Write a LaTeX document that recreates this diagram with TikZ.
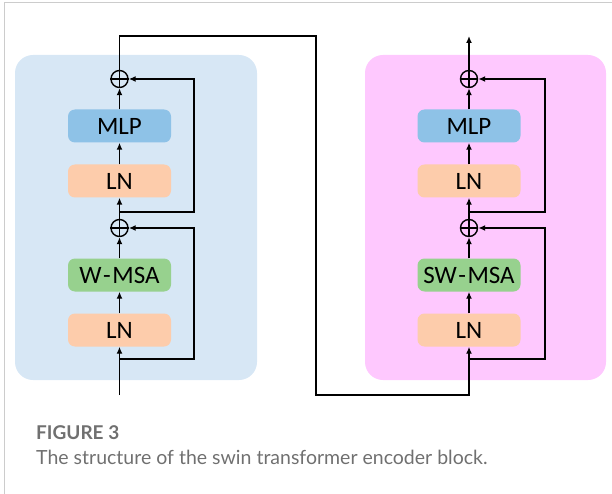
\documentclass[tikz,border=0pt]{standalone}
\usepackage{fontspec}
\setmainfont{Carlito}
\newfontfamily\capfont{Lato}
\usetikzlibrary{arrows.meta}
\definecolor{panelblue}{HTML}{D7E7F5}
\definecolor{panelpink}{HTML}{FEC8FE}
\definecolor{mlpblue}{HTML}{8EC2E7}
\definecolor{lnorange}{HTML}{FDCCAB}
\definecolor{msagreen}{HTML}{97D18E}
\definecolor{framegray}{HTML}{CCCCCC}
\definecolor{capgray}{HTML}{707070}
\tikzset{
  panel/.style={draw=none,rounded corners=18pt},
  blockbox/.style={draw=none,rounded corners=7pt,minimum width=103pt,minimum height=33pt,inner sep=0pt,font=\fontsize{25}{28}\selectfont},
  addnode/.style={circle,draw,line width=1.4pt,minimum size=17pt,inner sep=0pt},
  conn/.style={line width=1.4pt},
  arr/.style={conn,-{Latex[length=7pt,width=6pt]}},
}
\begin{document}
\begin{tikzpicture}[x=1pt,y=-1pt]
\useasboundingbox (0,0) rectangle (612,494);
\draw[framegray,line width=1pt] (4.5,494) -- (4.5,2.5) -- (612,2.5);
% panels
\fill[panelblue,panel] (15,55) rectangle (257,380);
\fill[panelpink,panel] (365,55) rectangle (606,380);
% left column
\node[addnode] (pa1) at (119.5,79) {};
\node[blockbox,fill=mlpblue] (mlpa) at (119.5,126) {MLP};
\node[blockbox,fill=lnorange] (lna1) at (119.5,181) {LN};
\node[addnode] (pa2) at (119.5,228) {};
\node[blockbox,fill=msagreen] (msaa) at (119.5,275) {W\kern1.5pt-\kern1.5pt MSA};
\node[blockbox,fill=lnorange] (lna2) at (119.5,330) {LN};
\coordinate (ina) at (119.5,395);
\coordinate (ba1) at (119.5,212);
\coordinate (ba2) at (119.5,359);
\coordinate (topl) at (119.5,36);
\coordinate (topr) at (316,36);
\coordinate (botl) at (316,395);
% right column
\node[addnode] (pb1) at (469,79) {};
\node[blockbox,fill=mlpblue] (mlpb) at (469,126) {MLP};
\node[blockbox,fill=lnorange] (lnb1) at (469,181) {LN};
\node[addnode] (pb2) at (469,228) {};
\node[blockbox,fill=msagreen] (msab) at (469,275) {SW\kern1.5pt-\kern1.5pt MSA};
\node[blockbox,fill=lnorange] (lnb2) at (469,330) {LN};
\coordinate (botr) at (469,395);
\coordinate (bb1) at (469,212);
\coordinate (bb2) at (469,359);
\coordinate (outb) at (469,36);
% plus signs
\foreach \p in {pa1,pa2,pb1,pb2}{
  \draw[conn] (\p.north) -- (\p.south);
  \draw[conn] (\p.west) -- (\p.east);
}
% left connectors
\draw[arr] (ina) -- (lna2.south);
\draw[arr] (lna2.north) -- (msaa.south);
\draw[arr] (msaa.north) -- (pa2.south);
\draw[arr] (pa2.north) -- (lna1.south);
\draw[arr] (lna1.north) -- (mlpa.south);
\draw[arr] (mlpa.north) -- (pa1.south);
\draw[arr] (ba2) -- (194,359) -- (194,228) -- (pa2.east);
\draw[arr] (ba1) -- (194,212) -- (194,79) -- (pa1.east);
% link between blocks
\draw[arr] (pa1.north) -- (topl) -- (topr) -- (botl) -- (botr) -- (lnb2.south);
% right connectors
\draw[arr] (lnb2.north) -- (msab.south);
\draw[arr] (msab.north) -- (pb2.south);
\draw[arr] (pb2.north) -- (lnb1.south);
\draw[arr] (lnb1.north) -- (mlpb.south);
\draw[arr] (mlpb.north) -- (pb1.south);
\draw[arr] (bb2) -- (545,359) -- (545,228) -- (pb2.east);
\draw[arr] (bb1) -- (545,212) -- (545,79) -- (pb1.east);
\draw[arr] (pb1.north) -- (outb);
% caption
\node[anchor=base west,inner sep=0pt,text=capgray,font=\capfont\bfseries\fontsize{19}{22}\selectfont] (figlabel) at (36,439) {FIGURE 3};
\node[anchor=base west,inner sep=0pt,text=capgray,font=\capfont\fontsize{19.5}{22}\selectfont] (figcap) at (36,464) {The structure of the swin transformer encoder block.};
\end{tikzpicture}
\end{document}
